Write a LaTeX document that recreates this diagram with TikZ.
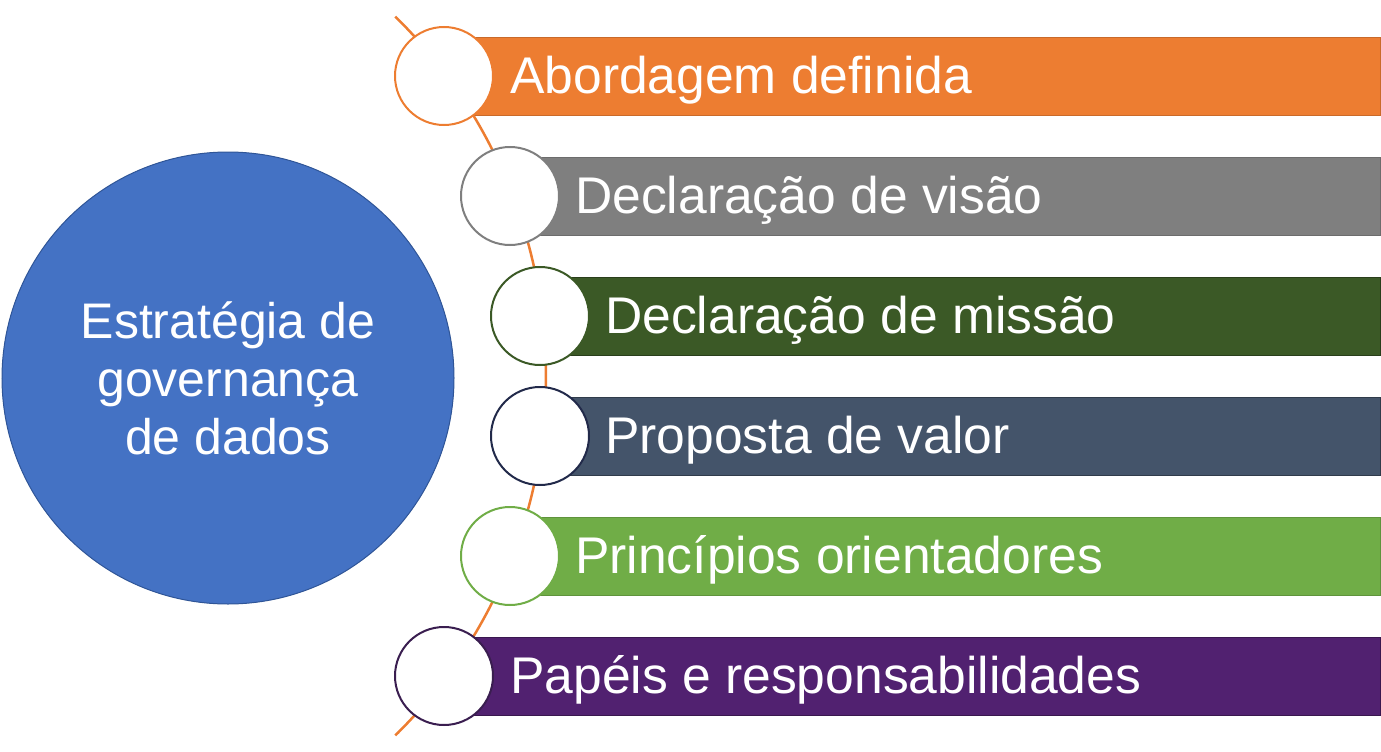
\documentclass[tikz,border=0pt]{standalone}
\usepackage{fontspec}
\setmainfont{Liberation Sans}
\definecolor{gvblue}{RGB}{68,114,196}
\definecolor{gvblueline}{RGB}{47,85,151}
\definecolor{gvorange}{RGB}{237,125,49}
\definecolor{gvgray}{RGB}{127,127,127}
\definecolor{gvdkgreen}{RGB}{59,89,38}
\definecolor{gvslate}{RGB}{68,84,106}
\definecolor{gvnavy}{RGB}{34,42,74}
\definecolor{gvgreen}{RGB}{112,173,71}
\definecolor{gvpurple}{RGB}{81,33,112}
\definecolor{gvdkpurple}{RGB}{58,30,80}
\usetikzlibrary{calc}

\begin{document}
\begin{tikzpicture}[
  x=1pt, y=-1pt,
  hub/.style={
    circle, minimum size=452pt, inner sep=0pt,
    fill=gvblue, draw=gvblueline, line width=1pt,
    text=white, align=center,
    font=\fontsize{50}{58}\selectfont
  },
  stepdot/.style={circle, minimum size=98pt, inner sep=0pt, fill=white, line width=2pt},
  stepbar/.style={rectangle, anchor=west, minimum height=78pt, inner sep=0pt, line width=0.8pt},
  steplabel/.style={anchor=base west, inner sep=0pt, text=white, font=\fontsize{51.6}{62}\selectfont},
  spine/.style={draw=gvorange, line width=2.5pt}
]
\useasboundingbox (0,0) rectangle (1381,752);

\draw[spine] (42,376) ++(-45.5:504) arc[start angle=-45.5, end angle=45.5, radius=504];

\node[hub] (hub) at (228,378) {Estratégia de\\governança\\de dados};

\node[stepbar, minimum width=936pt, fill=gvorange, draw=gvorange!85!black]   (bar1) at (444,76)  {};
\node[stepbar, minimum width=870pt, fill=gvgray, draw=gvgray!85!black]       (bar2) at (510,196) {};
\node[stepbar, minimum width=840pt, fill=gvdkgreen, draw=gvdkgreen!70!black] (bar3) at (540,316) {};
\node[stepbar, minimum width=840pt, fill=gvslate, draw=gvslate!70!black]     (bar4) at (540,436) {};
\node[stepbar, minimum width=870pt, fill=gvgreen, draw=gvgreen!85!black]     (bar5) at (510,556) {};
\node[stepbar, minimum width=936pt, fill=gvpurple, draw=gvpurple!70!black]   (bar6) at (444,676) {};

\node[stepdot, draw=gvorange]   (dot1) at (444,76)  {};
\node[stepdot, draw=gvgray]     (dot2) at (510,196) {};
\node[stepdot, draw=gvdkgreen]  (dot3) at (540,316) {};
\node[stepdot, draw=gvnavy]     (dot4) at (540,436) {};
\node[stepdot, draw=gvgreen]    (dot5) at (510,556) {};
\node[stepdot, draw=gvdkpurple] (dot6) at (444,676) {};

\node[steplabel] (lab1) at ($(dot1.center)+(66,17)$) {Abordagem definida};
\node[steplabel] (lab2) at ($(dot2.center)+(65,17)$) {Declaração de visão};
\node[steplabel] (lab3) at ($(dot3.center)+(65,17)$) {Declaração de missão};
\node[steplabel] (lab4) at ($(dot4.center)+(65,17)$) {Proposta de valor};
\node[steplabel] (lab5) at ($(dot5.center)+(65,17)$) {Princípios orientadores};
\node[steplabel] (lab6) at ($(dot6.center)+(66,17)$) {Papéis e responsabilidades};
\end{tikzpicture}
\end{document}
